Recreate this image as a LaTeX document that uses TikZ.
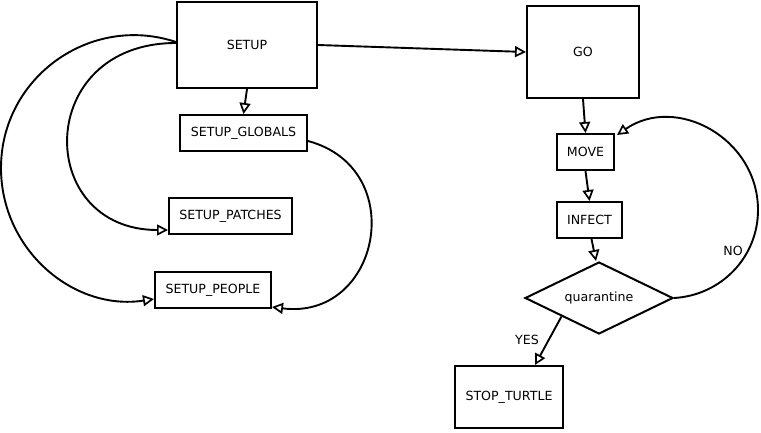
\documentclass[tikz,border=0pt]{standalone}
\usepackage{fontspec}
\setmainfont{DejaVu Sans}
\usetikzlibrary{arrows.meta,shapes.geometric}
\tikzset{
  box/.style={draw, line width=2pt, inner sep=0pt, font=\fontsize{12.6}{15}\selectfont},
  lbl/.style={inner sep=0pt, font=\fontsize{12.6}{15}\selectfont},
  conn/.style={line width=1.9pt, -{Triangle[open,length=11pt,width=11pt,line width=1.7pt]}},
}
\begin{document}
\begin{tikzpicture}[x=1pt,y=-1pt]
\useasboundingbox (0,0) rectangle (761,432);
\node[box, minimum width=140pt, minimum height=86pt] (setup) at (247,45) {SETUP};
\node[box, minimum width=112pt, minimum height=92pt] (go) at (583,52) {GO};
\node[box, minimum width=127pt, minimum height=36pt] (globals) at (243.5,133) {SETUP\_GLOBALS};
\node[box, minimum width=123pt, minimum height=36pt] (patches) at (230.5,216) {SETUP\_PATCHES};
\node[box, minimum width=116pt, minimum height=36pt] (people) at (213,290) {SETUP\_PEOPLE};
\node[box, minimum width=57pt, minimum height=36pt] (move) at (585.5,152) {MOVE};
\node[box, minimum width=65pt, minimum height=36pt] (infect) at (589.5,220) {INFECT};
\node[box, diamond, aspect=2, minimum width=148pt, minimum height=72pt] (q) at (599,298) {quarantine};
\node[box, minimum width=108pt, minimum height=62pt] (stop) at (509,397) {STOP\_TURTLE};
\coordinate (outerL) at (1,168);
\coordinate (noR) at (758,210);

\draw[conn] (setup.east) -- (go.west);
\draw[conn] (setup.south) -- (globals.north);
\draw[conn] ([yshift=2pt]setup.west) .. controls (34,43) and (34,230) .. ([yshift=-14pt]patches.west);
\draw[conn] ([yshift=3pt]setup.west) .. controls (90.2,13.4) and (1,77.6) .. (outerL)
   .. controls (1,249.6) and (73.3,311.3) .. ([yshift=-9pt]people.west);
\draw[conn] ([yshift=-8pt]globals.east) .. controls (410.4,168.5) and (380,320.8) .. ([yshift=-17pt]people.east);
\draw[conn] (go.south) -- (move.north);
\draw[conn] (move.south) -- (infect.north);
\draw[conn] ([xshift=2pt]infect.south) -- ([xshift=-3pt]q.north);
\draw[conn] (q.east) .. controls (721.1,295.3) and (758,257.2) .. (noR)
   .. controls (758,138.1) and (676.1,94.1) .. ([xshift=2pt,yshift=17pt]move.east);
\draw[conn] (q.south west) -- ([xshift=26pt]stop.north);
\node[lbl] (nolbl) at (733,251) {NO};
\node[lbl] (yeslbl) at (527,340) {YES};
\end{tikzpicture}
\end{document}
